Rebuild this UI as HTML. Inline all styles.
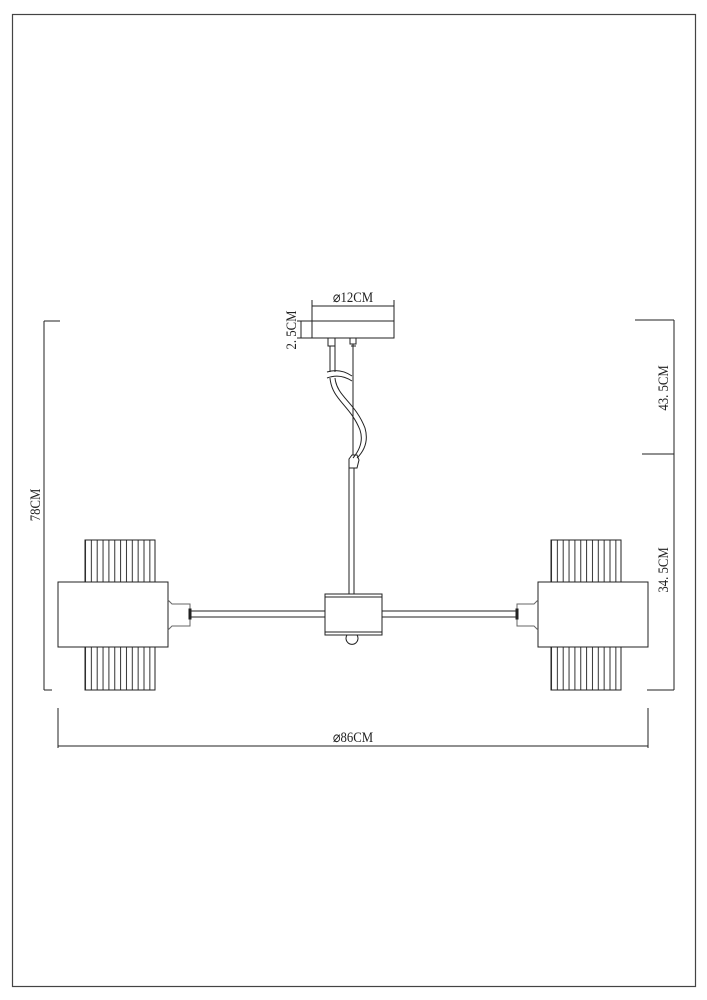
<!DOCTYPE html>
<html><head><meta charset="utf-8"><style>
html,body{margin:0;padding:0;background:#fff;}
svg{display:block;}
text{font-family:"Liberation Serif",serif;fill:#222;}
</style></head><body>
<svg width="707" height="1000" viewBox="0 0 707 1000" xmlns="http://www.w3.org/2000/svg">
<defs>
<pattern id="rib" x="85" y="0" width="5.85" height="10" patternUnits="userSpaceOnUse">
<line x1="0.5" y1="0" x2="0.5" y2="10" stroke="#333" stroke-width="1"/>
</pattern>
<pattern id="rib2" x="551" y="0" width="5.85" height="10" patternUnits="userSpaceOnUse">
<line x1="0.5" y1="0" x2="0.5" y2="10" stroke="#333" stroke-width="1"/>
</pattern>
</defs>
<rect x="12.5" y="14.5" width="683" height="972" fill="none" stroke="#444" stroke-width="1.2"/>
<g stroke="#222" stroke-width="1" fill="none">
<rect x="312" y="321" width="82" height="17"/>
<line x1="312" y1="306" x2="394" y2="306"/>
<line x1="312" y1="300" x2="312" y2="321"/>
<line x1="394" y1="300" x2="394" y2="321"/>
<line x1="301" y1="321" x2="301" y2="338"/>
<line x1="297" y1="321" x2="312" y2="321"/>
<line x1="297" y1="338" x2="312" y2="338"/>
<rect x="328" y="338" width="7" height="8"/>
<path d="M330 346 L330 372 M335 346 L335 372"/>
<path d="M327 372 Q340 368 352 376 M327 378 Q340 373 352 381"/>
<path d="M330 378 C332 400 350 405 360 430 C364 442 358 452 353 458"/>
<path d="M335 378 C337 397 355 402 365 428 C369 442 363 452 357 458"/>
<rect x="350" y="338" width="6" height="6"/>
<line x1="351" y1="346" x2="356" y2="346"/>
<line x1="353" y1="344" x2="353" y2="455"/>
<path d="M349 459 L352 455 L357 455 L359 460 L357 468 L349 468 Z"/>
<line x1="349" y1="468" x2="349" y2="594"/>
<line x1="354" y1="468" x2="354" y2="594"/>
<rect x="325" y="594" width="57" height="41"/>
<line x1="325" y1="597" x2="382" y2="597"/>
<line x1="325" y1="632" x2="382" y2="632"/>
<path d="M347 635 A6 6 0 1 0 357 635"/>
<line x1="190" y1="611" x2="325" y2="611"/>
<line x1="190" y1="617" x2="325" y2="617"/>
<line x1="382" y1="611" x2="517" y2="611"/>
<line x1="382" y1="617" x2="517" y2="617"/>
<rect x="85" y="540" width="70" height="42" fill="url(#rib)"/>
<rect x="85" y="647" width="70" height="43" fill="url(#rib)"/>
<rect x="85" y="540" width="70" height="42"/>
<rect x="85" y="647" width="70" height="43"/>
<rect x="58" y="582" width="110" height="65" fill="#fff"/>
<path d="M168 600 L172 604 L190 604 L190 626 L172 626 L168 630" stroke="#666"/>
<rect x="189" y="609" width="2" height="10" fill="#222"/>
<rect x="551" y="540" width="70" height="42" fill="url(#rib2)"/>
<rect x="551" y="647" width="70" height="43" fill="url(#rib2)"/>
<rect x="551" y="540" width="70" height="42"/>
<rect x="551" y="647" width="70" height="43"/>
<rect x="538" y="582" width="110" height="65" fill="#fff"/>
<path d="M538 600 L534 604 L517 604 L517 626 L534 626 L538 630" stroke="#666"/>
<rect x="516" y="609" width="2" height="10" fill="#222"/>
<line x1="44" y1="321" x2="44" y2="690"/>
<line x1="44" y1="321" x2="60" y2="321"/>
<line x1="44" y1="690" x2="52" y2="690"/>
<line x1="674" y1="320" x2="674" y2="690"/>
<line x1="635" y1="320" x2="674" y2="320"/>
<line x1="642" y1="454" x2="674" y2="454"/>
<line x1="647" y1="690" x2="674" y2="690"/>
<line x1="58" y1="746" x2="648" y2="746"/>
<line x1="58" y1="708" x2="58" y2="748"/>
<line x1="648" y1="708" x2="648" y2="748"/>
</g>
<text x="0" y="0" font-size="15" text-anchor="middle" transform="translate(353 302) scale(0.85 1)">⌀12CM</text>
<text x="0" y="0" font-size="15" text-anchor="middle" transform="translate(296 330) rotate(-90) scale(0.85 1)">2. 5CM</text>
<text x="0" y="0" font-size="15" text-anchor="middle" transform="translate(40 505) rotate(-90) scale(0.85 1)">78CM</text>
<text x="0" y="0" font-size="15" text-anchor="middle" transform="translate(668 388) rotate(-90) scale(0.85 1)">43. 5CM</text>
<text x="0" y="0" font-size="15" text-anchor="middle" transform="translate(668 570) rotate(-90) scale(0.85 1)">34. 5CM</text>
<text x="0" y="0" font-size="15" text-anchor="middle" transform="translate(353 742) scale(0.85 1)">⌀86CM</text>
</svg>
</body></html>
